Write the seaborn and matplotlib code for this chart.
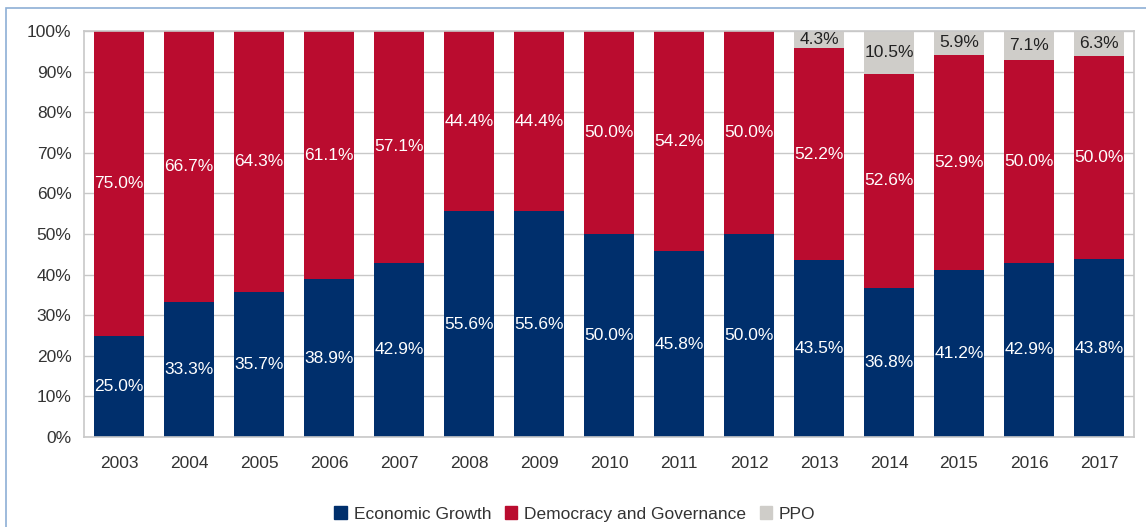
import matplotlib
matplotlib.use("Agg")
import matplotlib.pyplot as plt
import seaborn as sns
import pandas as pd
import numpy as np
from matplotlib.patches import Rectangle, Patch
from matplotlib.ticker import FixedLocator, FuncFormatter

years = ["2003", "2004", "2005", "2006", "2007", "2008", "2009", "2010",
         "2011", "2012", "2013", "2014", "2015", "2016", "2017"]
economic_growth = [25.0, 33.3, 35.7, 38.9, 42.9, 55.6, 55.6, 50.0, 45.8, 50.0, 43.5, 36.8, 41.2, 42.9, 43.8]
democracy_governance = [75.0, 66.7, 64.3, 61.1, 57.1, 44.4, 44.4, 50.0, 54.2, 50.0, 52.2, 52.6, 52.9, 50.0, 50.0]
ppo = [0, 0, 0, 0, 0, 0, 0, 0, 0, 0, 4.3, 10.5, 5.9, 7.1, 6.3]
series_names = ["Economic Growth", "Democracy and Governance", "PPO"]

sns.set_style("white")
plt.rcParams['font.family'] = ["Liberation Sans", 'DejaVu Sans']

BLUE = "#002F6C"
RED = "#BA0C2F"
GRAY = "#CFCDC9"

df = pd.DataFrame({"year": years, "eg": economic_growth, "dg": democracy_governance, "ppo": ppo})
df["c2"] = df["eg"] + df["dg"]
df["c3"] = df["c2"] + df["ppo"]

fig = plt.figure(figsize=(11.46, 5.27), dpi=100)
ax = fig.add_axes([84/1146, 1 - 437/527, (1134-84)/1146, (437-31)/527])

w = 0.71
sns.barplot(data=df, x="year", y="c3", color=GRAY, width=w, ax=ax, saturation=1, linewidth=0)
sns.barplot(data=df, x="year", y="c2", color=RED, width=w, ax=ax, saturation=1, linewidth=0)
sns.barplot(data=df, x="year", y="eg", color=BLUE, width=w, ax=ax, saturation=1, linewidth=0)

ax.set_xlim(-0.5, len(years) - 0.5)
ax.set_ylim(0, 100)
ax.set_xlabel("")
ax.set_ylabel("")
ax.set_yticks(np.arange(0, 101, 10))
ax.yaxis.set_major_formatter(FuncFormatter(lambda v, p: f"{v:.0f}%"))
ax.yaxis.grid(True, color="#C8C8C8", linewidth=1)
ax.set_axisbelow(True)
ax.xaxis.set_major_locator(FixedLocator(np.arange(len(years))))
ax.xaxis.set_minor_locator(FixedLocator(np.arange(-0.5, len(years), 1)))
ax.tick_params(axis="x", which="major", length=0, pad=14, labelsize=12.5, labelcolor="#333333")
ax.tick_params(axis="x", which="minor", length=6, color="#BBBBBB", width=1, direction="out")
ax.tick_params(axis="y", length=6, color="#BBBBBB", width=1, direction="out", labelsize=12.5, labelcolor="#333333", pad=3)
for s in ax.spines.values():
    s.set_color("#C8C8C8")
    s.set_linewidth(1.2)

for i in range(len(years)):
    eg, dg, p = economic_growth[i], democracy_governance[i], ppo[i]
    ax.text(i, eg / 2, f"{eg:.1f}%", ha="center", va="center", color="white", fontsize=12.5)
    ax.text(i, eg + dg / 2, f"{dg:.1f}%", ha="center", va="center", color="white", fontsize=12.5)
    if p > 0:
        ax.text(i, eg + dg + p / 2, f"{p:.1f}%", ha="center", va="center", color="#222222", fontsize=12.5)

handles = [Patch(color=c, label=n) for c, n in zip([BLUE, RED, GRAY], series_names)]
fig.legend(handles=handles, loc="center", bbox_to_anchor=(575/1146, 1 - 514/527), ncol=3,
           frameon=False, fontsize=12.5, handlelength=0.7, handleheight=0.7, handletextpad=0.4,
           columnspacing=0.8, labelcolor="#333333")

fig.patches.append(Rectangle((6/1146, -0.1), 1.2, 1 - 8/527 + 0.1, transform=fig.transFigure,
                             fill=False, edgecolor="#8DAFD6", linewidth=1.2, zorder=10))

fig.savefig("out.png", dpi=100)
